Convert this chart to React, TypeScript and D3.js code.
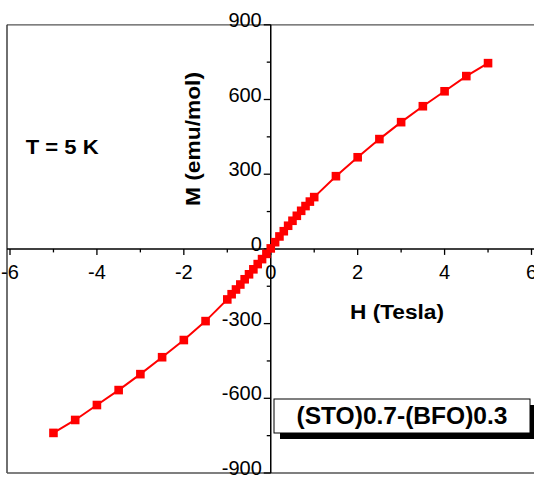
import React from "react";
import * as d3 from "d3";

const fieldH = [-5, -4.5, -4, -3.5, -3, -2.5, -2, -1.5, -1, -0.9, -0.8, -0.7, -0.6, -0.5, -0.4, -0.3, -0.2, -0.1, 0, 0.1, 0.2, 0.3, 0.4, 0.5, 0.6, 0.7, 0.8, 0.9, 1, 1.5, 2, 2.5, 3, 3.5, 4, 4.5, 5];
const momentM = [-739, -687, -627, -567, -503, -435, -366, -290, -203, -182, -163, -143, -122, -102, -82, -61, -41, -20, 2, 27, 50, 71, 93, 113, 133, 153, 172, 190, 208, 292, 368, 441, 509, 573, 633, 694, 746];
const xMajorTicks = [-6, -4, -2, 0, 2, 4, 6];
const xMinorTicks = [-5, -3, -1, 1, 3, 5];
const yMajorTicks = [-900, -600, -300, 0, 300, 600, 900];
const yMinorTicks = [-750, -450, -150, 150, 450, 750];

export default function App() {
  const W = 534, H = 477;
  const x = d3.scaleLinear().domain([-6, 6]).range([10, 531.5]);
  const y = d3.scaleLinear().domain([-900, 900]).range([473, 24.8]);
  const pts = fieldH.map((h, i) => [h, momentM[i]] as [number, number]);
  const line = d3.line<[number, number]>().x(d => x(d[0])).y(d => y(d[1]));
  const x0 = x(0), y0 = y(0);
  const font = "'Liberation Sans', Arial, sans-serif";
  return (
    <svg width={W} height={H} style={{ position: "absolute", left: 0, top: 0 }}>
      <rect x={0} y={0} width={W} height={H} fill="#fff" />
      {/* frame */}
      <line x1={7} x2={W} y1={24.8} y2={24.8} stroke="#555" strokeWidth={1.2} />
      <line x1={7} x2={7} y1={24.8} y2={473} stroke="#333" strokeWidth={1.4} />
      <line x1={7} x2={W} y1={473} y2={473} stroke="#555" strokeWidth={1.4} />
      {/* axes */}
      <line x1={7} x2={W} y1={y0} y2={y0} stroke="#000" strokeWidth={1.5} />
      <line x1={x0} x2={x0} y1={24.8} y2={473} stroke="#000" strokeWidth={1.5} />
      {xMajorTicks.map(t => (
        <line key={"xM" + t} x1={x(t)} x2={x(t)} y1={y0} y2={y0 + 6} stroke="#000" strokeWidth={1.3} />
      ))}
      {xMinorTicks.map(t => (
        <line key={"xm" + t} x1={x(t)} x2={x(t)} y1={y0} y2={y0 + 3.5} stroke="#000" strokeWidth={1.3} />
      ))}
      {yMajorTicks.map(t => (
        <line key={"yM" + t} x1={x0 - 7} x2={x0} y1={y(t)} y2={y(t)} stroke="#000" strokeWidth={1.3} />
      ))}
      {yMinorTicks.map(t => (
        <line key={"ym" + t} x1={x0 - 4} x2={x0} y1={y(t)} y2={y(t)} stroke="#000" strokeWidth={1.3} />
      ))}
      {xMajorTicks.map(t => (
        <text key={"xl" + t} x={x(t)} y={y0 + 30} textAnchor="middle" fontFamily={font} fontSize={20} fill="#000">{t}</text>
      ))}
      {yMajorTicks.map(t => (
        <text key={"yl" + t} x={x0 - 9} y={y(t) + 2} textAnchor="end" fontFamily={font} fontSize={20} fill="#000">{t}</text>
      ))}
      {/* series */}
      <path d={line(pts) || ""} fill="none" stroke="#ff0000" strokeWidth={2} />
      {pts.map((p, i) => (
        <rect key={"p" + i} x={x(p[0]) - 4.3} y={y(p[1]) - 4.3} width={8.6} height={8.6} fill="#ff0000" />
      ))}
      {/* titles */}
      <text x={397} y={319} textAnchor="middle" fontFamily={font} fontSize={20} fontWeight="bold" textLength={94} lengthAdjust="spacingAndGlyphs">H (Tesla)</text>
      <text transform={`translate(200,139) rotate(-90)`} textAnchor="middle" fontFamily={font} fontSize={20} fontWeight="bold" textLength={134} lengthAdjust="spacingAndGlyphs">M (emu/mol)</text>
      <text x={25.7} y={154} fontFamily={font} fontSize={20} fontWeight="bold" textLength={73} lengthAdjust="spacingAndGlyphs">T = 5 K</text>
      {/* legend box */}
      <rect x={280} y={405} width={256} height={34} fill="#000" />
      <rect x={274} y={399} width={256} height={34} fill="#fff" stroke="#000" strokeWidth={1} />
      <text x={402} y={424} textAnchor="middle" fontFamily={font} fontSize={24} fontWeight="bold" textLength={211} lengthAdjust="spacingAndGlyphs">(STO)0.7-(BFO)0.3</text>
    </svg>
  );
}
